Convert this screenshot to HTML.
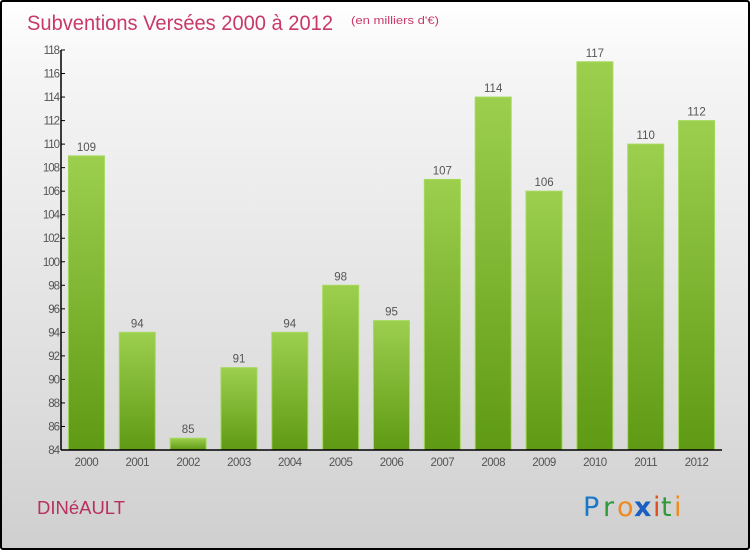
<!DOCTYPE html>
<html><head><meta charset="utf-8"><style>
html,body{margin:0;padding:0}
body{width:750px;height:550px;overflow:hidden;font-family:"Liberation Sans",sans-serif}
#frame{position:absolute;left:0;top:0;width:746px;height:546px;border:2px solid #000;border-radius:3px;background:linear-gradient(#ffffff,#f4f4f4 15%,#dcdcdc 75%,#cfcfcf)}
</style></head><body>
<div id="frame"></div>
<svg id="chart" width="750" height="550" style="position:absolute;left:0;top:0">
<defs>
<linearGradient id="bg" x1="0" y1="0" x2="0" y2="1"><stop offset="0" stop-color="#9ccf4e"/><stop offset="1" stop-color="#5f9a14"/></linearGradient>
</defs>
<text x="27" y="30" font-size="21" fill="#c8396a" textLength="306" lengthAdjust="spacingAndGlyphs">Subventions Versées 2000 à 2012</text>
<text x="351" y="24" font-size="11" fill="#c8396a" textLength="88" lengthAdjust="spacingAndGlyphs">(en milliers d'€)</text>
<text x="37" y="514" font-size="18" fill="#b8305e" textLength="88" lengthAdjust="spacingAndGlyphs">DINéAULT</text>
<g font-size="27" font-family="'DejaVu Sans',sans-serif">
<text x="583" y="516" fill="#1b78c8">P</text><text x="603" y="516" fill="#2e9a3a">r</text><text x="617" y="516" fill="#f08a1e">o</text><text x="634" y="516" fill="#1b5fc0" font-weight="bold">x</text><text x="653" y="516" fill="#e0501e">i</text><text x="661" y="516" fill="#2e9a3a">t</text><text x="674" y="516" fill="#f08a1e">i</text>
</g>
<g id="plot"></g>
</svg>
<script>
const categories=["2000","2001","2002","2003","2004","2005","2006","2007","2008","2009","2010","2011","2012"];
const values=[109,94,85,91,94,98,95,107,114,106,117,110,112];
const yTicks=[84,86,88,90,92,94,96,98,100,102,104,106,108,110,112,114,116,118];
const NS="http://www.w3.org/2000/svg";
const X0=61,X1=722,Y0=450,Y1=50,yMin=84,yMax=118;
const y=v=>Y0-(v-yMin)/(yMax-yMin)*(Y0-Y1);
const step=(X1-X0)/categories.length;
const xc=i=>X0+step*(i+0.5);
const g=document.getElementById('plot');
function mk(t,a,txt){const e=document.createElementNS(NS,t);for(const k in a)e.setAttribute(k,a[k]);if(txt!=null)e.textContent=txt;g.appendChild(e);return e;}
values.forEach((v,i)=>{
 const r=mk('rect',{x:xc(i)-18,y:y(v),width:36,height:Y0-y(v),fill:'url(#bg)',stroke:'#a6d95c','stroke-width':1});
 
 
 const t=mk('text',{x:xc(i),y:y(v)-5,'font-size':11.5,fill:'#555','text-anchor':'middle'},String(v));
 
 
 const c=mk('text',{x:xc(i),y:Y0+16,'font-size':11.5,fill:'#555','text-anchor':'middle','letter-spacing':'-0.5'},categories[i]);
 
 
});
yTicks.forEach(v=>{
 const l=mk('line',{x1:X0,x2:X0+4,y1:y(v),y2:y(v),stroke:'#000'});
 
 
 const t=mk('text',{x:X0-2,y:y(v)+4,'font-size':11.5,fill:'#555','text-anchor':'end','letter-spacing':'-1'},String(v));
 
 
});
const ya=mk('line',{x1:X0,x2:X0,y1:Y1,y2:Y0,stroke:'#000','stroke-width':1.5});


const xa=mk('line',{x1:X0,x2:X1,y1:Y0,y2:Y0,stroke:'#000','stroke-width':1.5});


</script>
</body></html>
